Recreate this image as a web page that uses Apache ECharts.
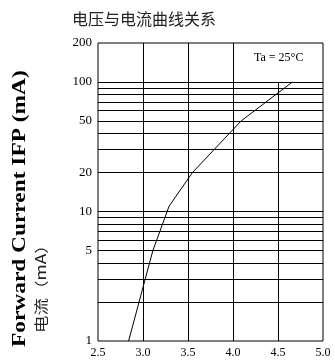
<!DOCTYPE html>
<html>
<head>
<meta charset="utf-8">
<script src="https://cdn.jsdelivr.net/npm/echarts@6/dist/echarts.min.js"></script>
<style>
  html, body { margin: 0; padding: 0; background: #fff; }
  #chart { width: 335px; height: 363px; }
</style>
</head>
<body>
<div id="chart"></div>
<script>
// Forward voltage (V) vs forward current (mA)
const voltage = [2.84, 3.11, 3.29, 3.55, 4.09, 4.66];
const current = [1, 5, 11, 20, 50, 100];

// Axis labels and grid lines
const yLabels = [1, 5, 10, 20, 50, 100, 200];
const xTicks = [2.5, 3.0, 3.5, 4.0, 4.5, 5.0];
const hGrid = [2, 3, 4, 5, 6, 7, 8, 9, 10, 20, 30, 40, 50, 60, 70, 80, 90, 100];
const vGridFull = [3.0, 3.5, 4.0];
const vGridShort = [[4.5, 1, 100]];

const serif = '"Liberation Serif", "DejaVu Serif", serif';
const gridLineStyle = { color: '#000', width: 1, type: 'solid' };

const markData = [];
hGrid.forEach(v => markData.push({ yAxis: v }));
vGridFull.forEach(v => markData.push({ xAxis: v }));
vGridShort.forEach(([x, y0, y1]) => markData.push([{ coord: [x, y0] }, { coord: [x, y1] }]));

const chart = echarts.init(document.getElementById('chart'), null, { renderer: 'canvas' });
chart.setOption({
  animation: false,
  backgroundColor: '#fff',
  title: {
    text: '电压与电流曲线关系',
    left: 67, top: 6,
    textStyle: { fontFamily: '"Noto Sans CJK SC", sans-serif', fontSize: 16, fontWeight: 'normal', color: '#222' }
  },
  grid: { left: 98, right: 12, top: 43, bottom: 22, show: true, borderColor: '#000', borderWidth: 1 },
  xAxis: {
    type: 'value', min: 2.5, max: 5.0, interval: 0.5,
    axisLine: { show: false }, axisTick: { show: false }, splitLine: { show: false },
    axisLabel: {
      customValues: xTicks,
      fontFamily: serif, fontSize: 12, color: '#000', margin: 6,
      formatter: v => v.toFixed(1)
    }
  },
  yAxis: {
    type: 'log', logBase: 10, min: 1, max: 200,
    axisLine: { show: false }, axisTick: { show: false }, splitLine: { show: false },
    axisLabel: {
      customValues: yLabels, showMinLabel: true, showMaxLabel: true,
      fontFamily: serif, fontSize: 13, color: '#000', margin: 6
    }
  },
  graphic: [
    {
      type: 'text', left: 254, top: 52,
      style: { text: 'Ta = 25°C', font: '12px ' + serif, fill: '#000' }
    },
    {
      type: 'text', x: 11, y: 347, rotation: Math.PI / 2, scaleX: 1.23,
      style: { text: 'Forward Current IFP (mA)', font: 'bold 19px ' + serif, fill: '#000', textAlign: 'left', textVerticalAlign: 'top' }
    },
    {
      type: 'text', x: 34, y: 333, rotation: Math.PI / 2, scaleX: 1.25,
      style: { text: '电流（mA）', font: '14px "Noto Sans CJK SC", sans-serif', fill: '#222', textAlign: 'left', textVerticalAlign: 'top' }
    }
  ],
  series: [{
    type: 'line',
    data: voltage.map((v, i) => [v, current[i]]),
    showSymbol: false,
    lineStyle: { color: '#000', width: 1 },
    markLine: {
      silent: true, symbol: 'none', label: { show: false },
      lineStyle: gridLineStyle,
      data: markData
    }
  }]
});
</script>
</body>
</html>
